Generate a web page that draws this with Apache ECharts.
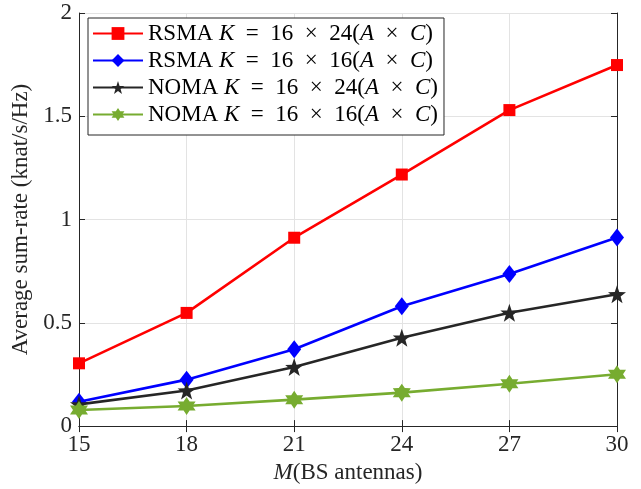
<!DOCTYPE html>
<html>
<head>
<meta charset="utf-8">
<script src="https://cdn.jsdelivr.net/npm/echarts@6/dist/echarts.min.js"></script>
<style>
  html, body { margin: 0; padding: 0; background: #fff; }
  #chart { width: 641px; height: 489px; }
</style>
</head>
<body>
<div id="chart"></div>
<script>
const antennas = [15, 18, 21, 24, 27, 30];
const rsma24 = [0.304, 0.548, 0.912, 1.218, 1.530, 1.748];
const rsma16 = [0.118, 0.225, 0.372, 0.580, 0.736, 0.913];
const noma24 = [0.105, 0.172, 0.286, 0.428, 0.549, 0.638];
const noma16 = [0.078, 0.097, 0.128, 0.162, 0.205, 0.251];
const xTicks = [15, 18, 21, 24, 27, 30];

const serif = '"Liberation Serif", "DejaVu Serif", serif';

// star marker outline, n points
function starPath(n, ratio) {
  const pts = [];
  for (let i = 0; i < n * 2; i++) {
    const r = i % 2 === 0 ? 1 : ratio;
    const a = -Math.PI / 2 + i * Math.PI / n;
    pts.push((50 + 50 * r * Math.cos(a)).toFixed(2) + ' ' + (50 + 50 * r * Math.sin(a)).toFixed(2));
  }
  return 'path://M' + pts.join(' L') + ' Z';
}

function pairs(ys) {
  return antennas.map((x, i) => [x, ys[i]]);
}

const seriesDefs = [
  { key: 'r24', name: 'RSMA', dims: '24', data: rsma24, color: '#ff0000', symbol: 'rect', size: 12 },
  { key: 'r16', name: 'RSMA', dims: '16', data: rsma16, color: '#0000ff', symbol: 'diamond', size: [14, 18] },
  { key: 'n24', name: 'NOMA', dims: '24', data: noma24, color: '#262626', symbol: starPath(5, 0.4), size: 18 },
  { key: 'n16', name: 'NOMA', dims: '16', data: noma16, color: '#77ac30', symbol: starPath(6, 0.58), size: 18 },
];

const labelMap = {};
seriesDefs.forEach(s => {
  labelMap[s.key] = `${s.name} {i|K}  =  16  ×  ${s.dims}({i|A}  ×  {i|C})`;
});

const chart = echarts.init(document.getElementById('chart'), null, { renderer: 'canvas' });

const axisLine = { show: true, lineStyle: { color: '#262626', width: 1 } };
const tick = { show: true, inside: true, length: 6, lineStyle: { color: '#262626' } };
const fs = 23;

chart.setOption({
  animation: false,
  backgroundColor: '#ffffff',
  grid: { left: 79, right: 24, top: 13, bottom: 62, containLabel: false },
  legend: {
    orient: 'vertical',
    left: 88,
    top: 18,
    padding: [4, 6, 9, 4],
    itemGap: 4,
    itemWidth: 50,
    itemHeight: 16,
    backgroundColor: '#ffffff',
    borderColor: '#262626',
    borderWidth: 1,
    borderRadius: 0,
    data: seriesDefs.map(s => s.key),
    formatter: k => labelMap[k],
    textStyle: {
      fontFamily: serif,
      fontSize: fs,
      color: '#000',
      rich: {
        i: { fontFamily: serif, fontStyle: 'italic', fontSize: fs, color: '#000' }
      }
    }
  },
  xAxis: [
    {
      type: 'value',
      min: 15,
      max: 30,
      interval: 3,
      name: '{i|M}(BS antennas)',
      nameLocation: 'middle',
      nameGap: 31,
      nameTextStyle: {
        fontFamily: serif,
        fontSize: fs,
        color: '#262626',
        rich: { i: { fontFamily: serif, fontStyle: 'italic', fontSize: fs, color: '#262626' } }
      },
      axisLine: axisLine,
      axisTick: tick,
      axisLabel: {
        fontFamily: serif, fontSize: fs, color: '#262626', margin: 7,
        formatter: v => xTicks.includes(v) ? String(v) : ''
      },
      splitLine: { show: true, lineStyle: { color: '#e3e3e3', width: 1 } }
    },
    {
      type: 'value',
      position: 'top',
      min: 15,
      max: 30,
      interval: 3,
      axisLine: axisLine,
      axisTick: tick,
      axisLabel: { show: false },
      splitLine: { show: false }
    }
  ],
  yAxis: [
    {
      type: 'value',
      min: 0,
      max: 2,
      interval: 0.5,
      name: 'Average sum-rate (knat/s/Hz)',
      nameLocation: 'middle',
      nameGap: 45,
      nameTextStyle: { fontFamily: serif, fontSize: fs, color: '#262626' },
      axisLine: axisLine,
      axisTick: tick,
      axisLabel: { fontFamily: serif, fontSize: fs, color: '#262626', margin: 7 },
      splitLine: { show: true, lineStyle: { color: '#e3e3e3', width: 1 } }
    },
    {
      type: 'value',
      position: 'right',
      min: 0,
      max: 2,
      interval: 0.5,
      axisLine: axisLine,
      axisTick: tick,
      axisLabel: { show: false },
      splitLine: { show: false }
    }
  ],
  series: seriesDefs.map(s => ({
    name: s.key,
    type: 'line',
    data: pairs(s.data),
    symbol: s.symbol,
    symbolSize: s.size,
    showAllSymbol: true,
    lineStyle: { color: s.color, width: 2.6 },
    itemStyle: { color: s.color, borderWidth: 0 },
    clip: false,
    z: 3
  }))
});
</script>
</body>
</html>
